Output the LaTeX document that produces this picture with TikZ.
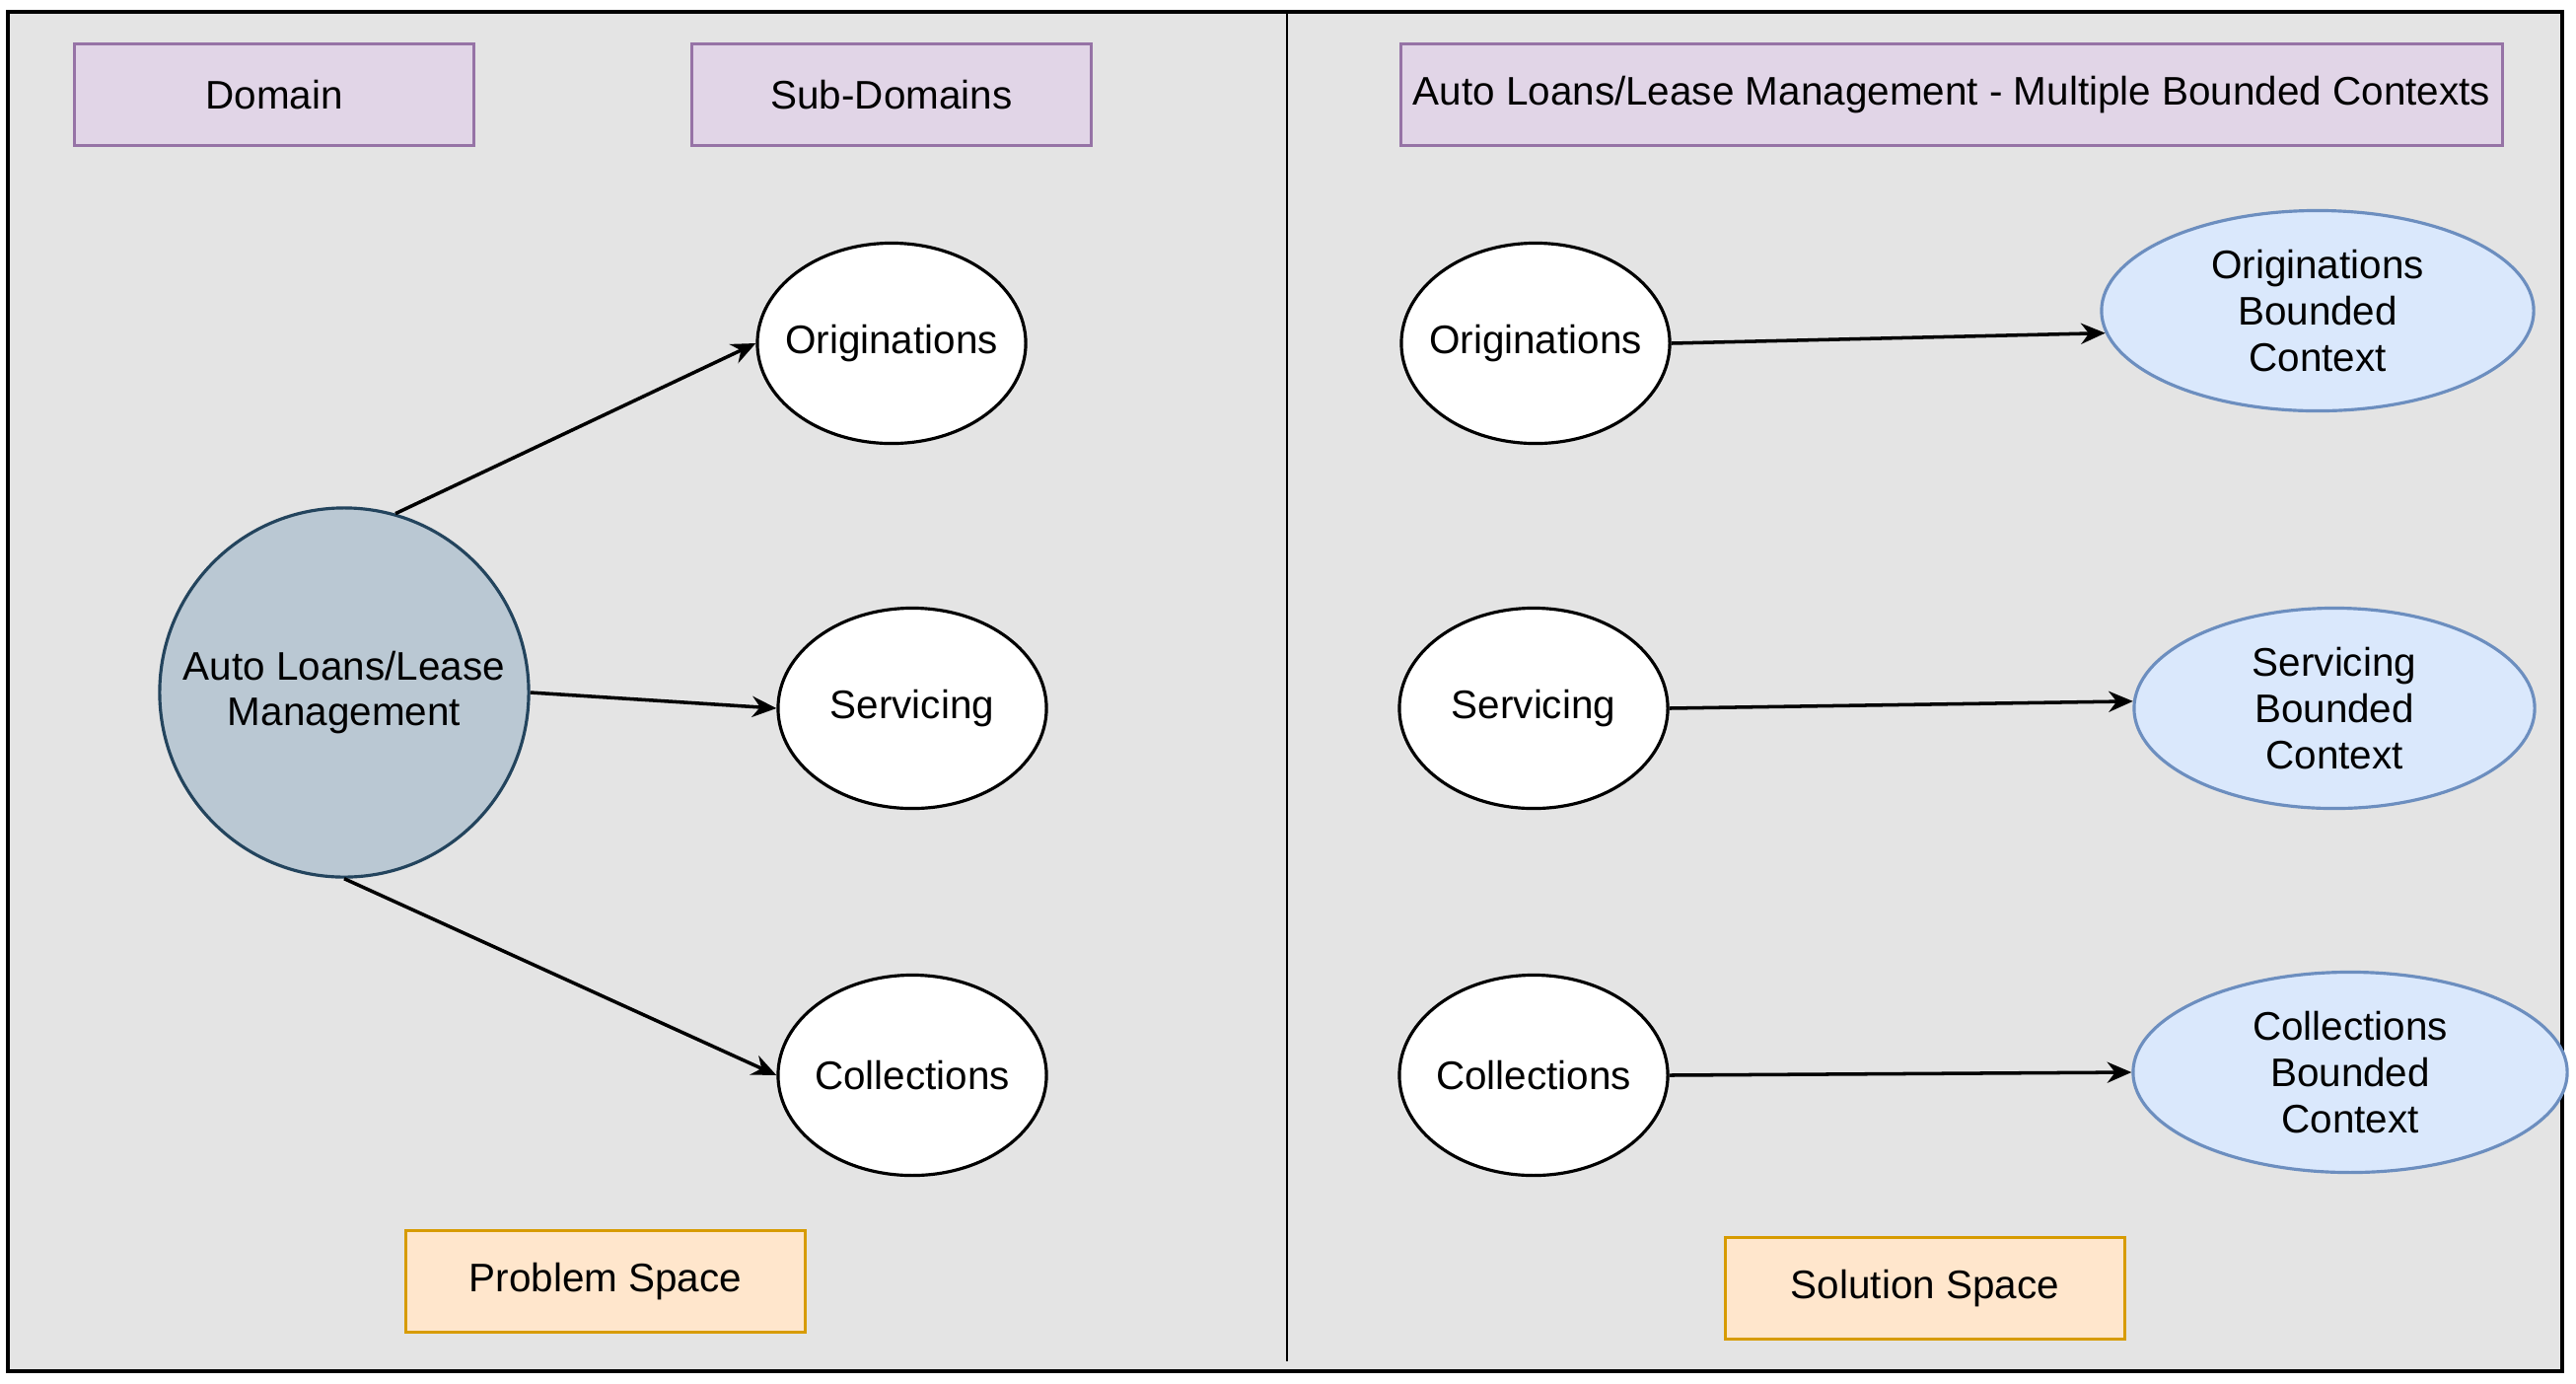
\documentclass[tikz,border=0pt]{standalone}
\usepackage{fontspec}
\setmainfont{Liberation Sans}
\usetikzlibrary{arrows.meta}
\usetikzlibrary{shapes.geometric}
\definecolor{panel}{HTML}{E4E4E4}
\definecolor{lilac}{HTML}{E1D5E7}
\definecolor{lilacline}{HTML}{9673A6}
\definecolor{peach}{HTML}{FFE6CC}
\definecolor{peachline}{HTML}{D79B00}
\definecolor{skyfill}{HTML}{DAE8FC}
\definecolor{skyline}{HTML}{6C8EBF}
\definecolor{slate}{HTML}{BAC8D3}
\definecolor{slateline}{HTML}{23445D}

\begin{document}
\begin{tikzpicture}[x=0.01cm, y=-0.01cm, font=\fontsize{11.5}{13.3}\selectfont,
    Title/.style={rectangle, draw=lilacline, fill=lilac, line width=1pt, minimum width=#1, minimum height=1.03cm, inner sep=0pt},
    Space/.style={rectangle, draw=peachline, fill=peach, line width=1pt, minimum width=4.05cm, minimum height=1.03cm, inner sep=0pt},
    Sub/.style={ellipse, draw=black, fill=white, line width=0.9pt, minimum width=2.72cm, minimum height=2.03cm, inner ysep=0pt, inner xsep=-0.15cm},
    Context/.style={ellipse, draw=skyline, fill=skyfill, line width=0.9pt, minimum width=#1, minimum height=2.03cm, inner sep=0pt, align=center},
    Link/.style={-{Stealth[length=7pt, width=6pt]}, line width=1}]
        % \draw[help lines, gray] (0,0) grid[step=100] (2612,1402);
        \useasboundingbox (0,0) rectangle (2612,1402);
        \draw[line width=1.2pt, fill=panel] (8,12) rectangle (2598,1390);
        \draw[line width=0.6pt] (1305,12) -- (1305,1380);

        % problem space
        \node[Title=4.05cm] (Dom) at (278,96){Domain};
        \node[Title=4.05cm] (SubDom) at (904,96){Sub-Domains};
        \node[circle, draw=slateline, fill=slate, line width=0.9pt, minimum size=3.74cm, inner sep=0pt, align=center] (ALM) at (349,702){Auto Loans/Lease\\Management};
        \node[Sub] (O) at (904,348){Originations};
        \node[Sub] (S) at (925,718){Servicing};
        \node[Sub] (C) at (925,1090){Collections};
        \node[Space] (PS) at (614,1299){Problem Space};

        % solution space
        \node[Title=11.16cm] (BC) at (1979,96){Auto Loans/Lease Management - Multiple Bounded Contexts};
        \node[Sub] (RO) at (1557,348){Originations};
        \node[Sub] (RS) at (1555,718){Servicing};
        \node[Sub] (RC) at (1555,1090){Collections};
        \node[Context=4.38cm] (OBC) at (2350,315){Originations\\Bounded\\Context};
        \node[Context=4.06cm] (SBC) at (2367,718){Servicing\\Bounded\\Context};
        \node[Context=4.40cm] (CBC) at (2383,1087){Collections\\Bounded\\Context};
        \node[Space] (SS) at (1952,1306){Solution Space};

        \draw[Link] (ALM.74) -- (O.west);
        \draw[Link] (ALM.east) -- (S.west);
        \draw[Link] (ALM.south) -- (C.west);
        \draw[Link] (RO.east) -- (OBC.186);
        \draw[Link] (RS.east) -- (SBC.178);
        \draw[Link] (RC.east) -- (CBC.west);

    \end{tikzpicture}
\end{document}
